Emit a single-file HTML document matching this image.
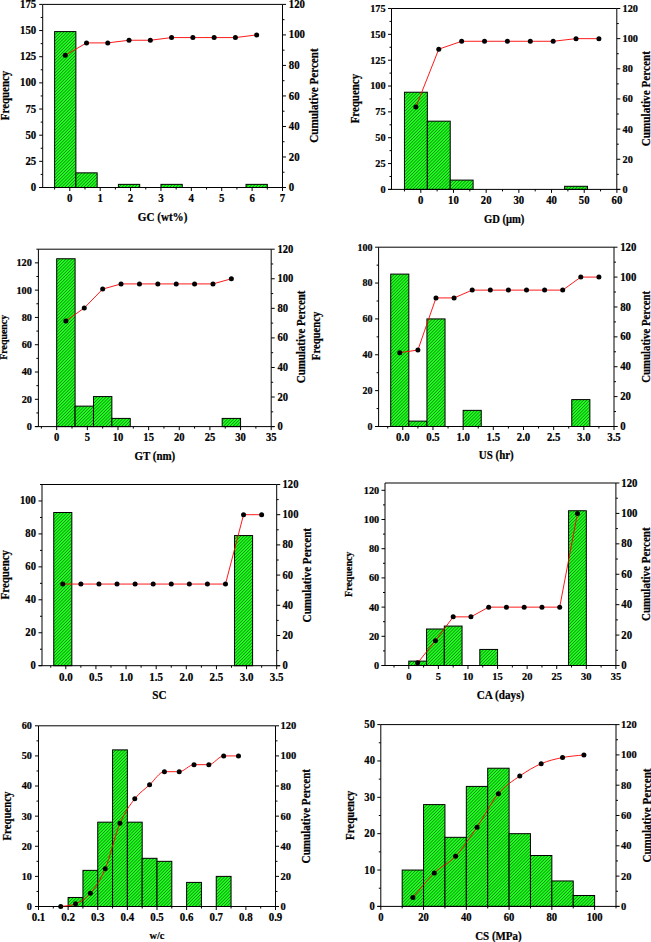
<!DOCTYPE html>
<html><head><meta charset="utf-8"><title>Histograms</title>
<style>html,body{margin:0;padding:0;background:#fff;width:651px;height:942px;overflow:hidden;font-family:"Liberation Serif",serif}svg{display:block}</style>
</head><body>
<svg width="651" height="942" viewBox="0 0 651 942">
<defs>
<style>text{stroke:#000;stroke-width:0.2px;stroke-linejoin:round}</style>
<pattern id="h" patternUnits="userSpaceOnUse" width="4" height="2.25" patternTransform="rotate(-45)">
<rect width="4" height="2.25" fill="#20ff20"/>
<rect width="4" height="0.62" fill="#0a720a"/>
</pattern>
</defs>
<rect width="651" height="942" fill="#fff"/>
<g font-family='"Liberation Serif", serif' font-weight="bold" fill="#000">
<rect x="54.61" y="31.6" width="21.27" height="155.9" fill="url(#h)" stroke="#000" stroke-width="1"/>
<rect x="75.88" y="172.85" width="21.27" height="14.65" fill="url(#h)" stroke="#000" stroke-width="1"/>
<rect x="118.42" y="184.36" width="21.27" height="3.14" fill="url(#h)" stroke="#000" stroke-width="1"/>
<rect x="160.96" y="184.36" width="21.27" height="3.14" fill="url(#h)" stroke="#000" stroke-width="1"/>
<rect x="246.04" y="184.36" width="21.27" height="3.14" fill="url(#h)" stroke="#000" stroke-width="1"/>
<text transform="translate(36.23,191.06) scale(1,1.08)" text-anchor="end" font-size="10.8">0</text>
<text transform="translate(36.23,164.91) scale(1,1.08)" text-anchor="end" font-size="10.8">25</text>
<text transform="translate(36.23,138.75) scale(1,1.08)" text-anchor="end" font-size="10.8">50</text>
<text transform="translate(36.23,112.59) scale(1,1.08)" text-anchor="end" font-size="10.8">75</text>
<text transform="translate(36.23,86.44) scale(1,1.08)" text-anchor="end" font-size="10.8">100</text>
<text transform="translate(36.23,60.28) scale(1,1.08)" text-anchor="end" font-size="10.8">125</text>
<text transform="translate(36.23,34.12) scale(1,1.08)" text-anchor="end" font-size="10.8">150</text>
<text transform="translate(36.23,7.96) scale(1,1.08)" text-anchor="end" font-size="10.8">175</text>
<text transform="translate(288.77,191.06) scale(1,1.08)" text-anchor="start" font-size="10.8">0</text>
<text transform="translate(288.77,160.55) scale(1,1.08)" text-anchor="start" font-size="10.8">20</text>
<text transform="translate(288.77,130.03) scale(1,1.08)" text-anchor="start" font-size="10.8">40</text>
<text transform="translate(288.77,99.51) scale(1,1.08)" text-anchor="start" font-size="10.8">60</text>
<text transform="translate(288.77,69) scale(1,1.08)" text-anchor="start" font-size="10.8">80</text>
<text transform="translate(288.77,38.48) scale(1,1.08)" text-anchor="start" font-size="10.8">100</text>
<text transform="translate(288.77,7.96) scale(1,1.08)" text-anchor="start" font-size="10.8">120</text>
<text transform="translate(69.8,202.4) scale(1,1.08)" text-anchor="middle" font-size="10.9">0</text>
<text transform="translate(100.19,202.4) scale(1,1.08)" text-anchor="middle" font-size="10.9">1</text>
<text transform="translate(130.57,202.4) scale(1,1.08)" text-anchor="middle" font-size="10.9">2</text>
<text transform="translate(160.96,202.4) scale(1,1.08)" text-anchor="middle" font-size="10.9">3</text>
<text transform="translate(191.34,202.4) scale(1,1.08)" text-anchor="middle" font-size="10.9">4</text>
<text transform="translate(221.73,202.4) scale(1,1.08)" text-anchor="middle" font-size="10.9">5</text>
<text transform="translate(252.11,202.4) scale(1,1.08)" text-anchor="middle" font-size="10.9">6</text>
<text transform="translate(282.5,202.4) scale(1,1.08)" text-anchor="middle" font-size="10.9">7</text>
<path d="M42.7,4.4H282.5 M39.2,187.5H286 M42.7,4.4V187.5 M282.5,4.4V187.5 M39.2,187.5H42.7 M39.2,161.34H42.7 M39.2,135.19H42.7 M39.2,109.03H42.7 M39.2,82.87H42.7 M39.2,56.71H42.7 M39.2,30.56H42.7 M39.2,4.4H42.7 M40.7,174.42H42.7 M40.7,148.26H42.7 M40.7,122.11H42.7 M40.7,95.95H42.7 M40.7,69.79H42.7 M40.7,43.64H42.7 M40.7,17.48H42.7 M282.5,187.5H286 M282.5,156.98H286 M282.5,126.47H286 M282.5,95.95H286 M282.5,65.43H286 M282.5,34.92H286 M282.5,4.4H286 M282.5,172.24H284.5 M282.5,141.72H284.5 M282.5,111.21H284.5 M282.5,80.69H284.5 M282.5,50.17H284.5 M282.5,19.66H284.5 M69.8,187.5V191 M100.19,187.5V191 M130.57,187.5V191 M160.96,187.5V191 M191.34,187.5V191 M221.73,187.5V191 M252.11,187.5V191 M282.5,187.5V191 M54.61,187.5V189.5 M84.99,187.5V189.5 M115.38,187.5V189.5 M145.76,187.5V189.5 M176.15,187.5V189.5 M206.54,187.5V189.5 M236.92,187.5V189.5 M267.31,187.5V189.5" stroke="#000" stroke-width="1" fill="none"/>
<path d="M65.24,55.32 L86.51,42.9 L107.78,42.9 L129.05,40.24 L150.32,40.24 L171.59,37.58 L192.86,37.58 L214.13,37.58 L235.4,37.58 L256.67,34.92" stroke="#ff0000" stroke-width="0.9" fill="none"/>
<circle cx="65.24" cy="55.32" r="2.5" fill="#000"/>
<circle cx="86.51" cy="42.9" r="2.5" fill="#000"/>
<circle cx="107.78" cy="42.9" r="2.5" fill="#000"/>
<circle cx="129.05" cy="40.24" r="2.5" fill="#000"/>
<circle cx="150.32" cy="40.24" r="2.5" fill="#000"/>
<circle cx="171.59" cy="37.58" r="2.5" fill="#000"/>
<circle cx="192.86" cy="37.58" r="2.5" fill="#000"/>
<circle cx="214.13" cy="37.58" r="2.5" fill="#000"/>
<circle cx="235.4" cy="37.58" r="2.5" fill="#000"/>
<circle cx="256.67" cy="34.92" r="2.5" fill="#000"/>
<text transform="translate(162.6,221.4) scale(1,1.08)" text-anchor="middle" font-size="11.1">GC (wt%)</text>
<text transform="translate(8.5,95.45) rotate(-90) scale(1,1.08)" text-anchor="middle" font-size="10.9">Frequency</text>
<text transform="translate(318.2,95.55) rotate(-90) scale(1,1.08)" text-anchor="middle" font-size="11.1">Cumulative Percent</text>
<rect x="404.46" y="92.23" width="22.88" height="97.17" fill="url(#h)" stroke="#000" stroke-width="1"/>
<rect x="427.34" y="121.17" width="22.88" height="68.23" fill="url(#h)" stroke="#000" stroke-width="1"/>
<rect x="450.22" y="180.1" width="22.88" height="9.3" fill="url(#h)" stroke="#000" stroke-width="1"/>
<rect x="564.61" y="186.3" width="22.88" height="3.1" fill="url(#h)" stroke="#000" stroke-width="1"/>
<text transform="translate(385.61,192.8) scale(1,1.08)" text-anchor="end" font-size="10.3">0</text>
<text transform="translate(385.61,166.96) scale(1,1.08)" text-anchor="end" font-size="10.3">25</text>
<text transform="translate(385.61,141.11) scale(1,1.08)" text-anchor="end" font-size="10.3">50</text>
<text transform="translate(385.61,115.27) scale(1,1.08)" text-anchor="end" font-size="10.3">75</text>
<text transform="translate(385.61,89.43) scale(1,1.08)" text-anchor="end" font-size="10.3">100</text>
<text transform="translate(385.61,63.58) scale(1,1.08)" text-anchor="end" font-size="10.3">125</text>
<text transform="translate(385.61,37.74) scale(1,1.08)" text-anchor="end" font-size="10.3">150</text>
<text transform="translate(385.61,11.9) scale(1,1.08)" text-anchor="end" font-size="10.3">175</text>
<text transform="translate(622.59,192.8) scale(1,1.08)" text-anchor="start" font-size="10.3">0</text>
<text transform="translate(622.59,162.65) scale(1,1.08)" text-anchor="start" font-size="10.3">20</text>
<text transform="translate(622.59,132.5) scale(1,1.08)" text-anchor="start" font-size="10.3">40</text>
<text transform="translate(622.59,102.35) scale(1,1.08)" text-anchor="start" font-size="10.3">60</text>
<text transform="translate(622.59,72.2) scale(1,1.08)" text-anchor="start" font-size="10.3">80</text>
<text transform="translate(622.59,42.05) scale(1,1.08)" text-anchor="start" font-size="10.3">100</text>
<text transform="translate(622.59,11.9) scale(1,1.08)" text-anchor="start" font-size="10.3">120</text>
<text transform="translate(420.8,204.2) scale(1,1.08)" text-anchor="middle" font-size="10.75">0</text>
<text transform="translate(453.48,204.2) scale(1,1.08)" text-anchor="middle" font-size="10.75">10</text>
<text transform="translate(486.17,204.2) scale(1,1.08)" text-anchor="middle" font-size="10.75">20</text>
<text transform="translate(518.85,204.2) scale(1,1.08)" text-anchor="middle" font-size="10.75">30</text>
<text transform="translate(551.53,204.2) scale(1,1.08)" text-anchor="middle" font-size="10.75">40</text>
<text transform="translate(584.22,204.2) scale(1,1.08)" text-anchor="middle" font-size="10.75">50</text>
<text transform="translate(616.9,204.2) scale(1,1.08)" text-anchor="middle" font-size="10.75">60</text>
<path d="M391.5,8.5H616.8 M388,189.4H620.3 M391.5,8.5V189.4 M616.8,8.5V189.4 M388,189.4H391.5 M388,163.56H391.5 M388,137.71H391.5 M388,111.87H391.5 M388,86.03H391.5 M388,60.19H391.5 M388,34.34H391.5 M388,8.5H391.5 M389.5,176.48H391.5 M389.5,150.64H391.5 M389.5,124.79H391.5 M389.5,98.95H391.5 M389.5,73.11H391.5 M389.5,47.26H391.5 M389.5,21.42H391.5 M616.8,189.4H620.3 M616.8,159.25H620.3 M616.8,129.1H620.3 M616.8,98.95H620.3 M616.8,68.8H620.3 M616.8,38.65H620.3 M616.8,8.5H620.3 M616.8,174.33H618.8 M616.8,144.18H618.8 M616.8,114.03H618.8 M616.8,83.88H618.8 M616.8,53.72H618.8 M616.8,23.57H618.8 M420.8,189.4V192.9 M453.48,189.4V192.9 M486.17,189.4V192.9 M518.85,189.4V192.9 M551.53,189.4V192.9 M584.22,189.4V192.9 M616.9,189.4V192.9 M404.46,189.4V191.4 M437.14,189.4V191.4 M469.82,189.4V191.4 M502.51,189.4V191.4 M535.19,189.4V191.4 M567.88,189.4V191.4 M600.56,189.4V191.4" stroke="#000" stroke-width="1" fill="none"/>
<path d="M415.9,107.01 L438.78,49.17 L461.65,41.28 L484.53,41.28 L507.41,41.28 L530.29,41.28 L553.17,41.28 L576.05,38.65 L598.92,38.65" stroke="#ff0000" stroke-width="0.9" fill="none"/>
<circle cx="415.9" cy="107.01" r="2.5" fill="#000"/>
<circle cx="438.78" cy="49.17" r="2.5" fill="#000"/>
<circle cx="461.65" cy="41.28" r="2.5" fill="#000"/>
<circle cx="484.53" cy="41.28" r="2.5" fill="#000"/>
<circle cx="507.41" cy="41.28" r="2.5" fill="#000"/>
<circle cx="530.29" cy="41.28" r="2.5" fill="#000"/>
<circle cx="553.17" cy="41.28" r="2.5" fill="#000"/>
<circle cx="576.05" cy="38.65" r="2.5" fill="#000"/>
<circle cx="598.92" cy="38.65" r="2.5" fill="#000"/>
<text transform="translate(504.15,222.5) scale(1,1.08)" text-anchor="middle" font-size="10.6">GD (μm)</text>
<text transform="translate(359.4,98.6) rotate(-90) scale(1,1.08)" text-anchor="middle" font-size="10.9">Frequency</text>
<text transform="translate(649.9,98.7) rotate(-90) scale(1,1.08)" text-anchor="middle" font-size="11.2">Cumulative Percent</text>
<rect x="56.7" y="258.75" width="18.39" height="167.85" fill="url(#h)" stroke="#000" stroke-width="1"/>
<rect x="75.09" y="406.13" width="18.39" height="20.47" fill="url(#h)" stroke="#000" stroke-width="1"/>
<rect x="93.47" y="396.58" width="18.39" height="30.02" fill="url(#h)" stroke="#000" stroke-width="1"/>
<rect x="111.86" y="418.41" width="18.39" height="8.19" fill="url(#h)" stroke="#000" stroke-width="1"/>
<rect x="222.17" y="418.41" width="18.39" height="8.19" fill="url(#h)" stroke="#000" stroke-width="1"/>
<text transform="translate(31.91,430) scale(1,1.08)" text-anchor="end" font-size="10.3">0</text>
<text transform="translate(31.91,402.71) scale(1,1.08)" text-anchor="end" font-size="10.3">20</text>
<text transform="translate(31.91,375.41) scale(1,1.08)" text-anchor="end" font-size="10.3">40</text>
<text transform="translate(31.91,348.12) scale(1,1.08)" text-anchor="end" font-size="10.3">60</text>
<text transform="translate(31.91,320.83) scale(1,1.08)" text-anchor="end" font-size="10.3">80</text>
<text transform="translate(31.91,293.54) scale(1,1.08)" text-anchor="end" font-size="10.3">100</text>
<text transform="translate(31.91,266.25) scale(1,1.08)" text-anchor="end" font-size="10.3">120</text>
<text transform="translate(277.48,430.1) scale(1,1.08)" text-anchor="start" font-size="10.6">0</text>
<text transform="translate(277.48,400.53) scale(1,1.08)" text-anchor="start" font-size="10.6">20</text>
<text transform="translate(277.48,370.96) scale(1,1.08)" text-anchor="start" font-size="10.6">40</text>
<text transform="translate(277.48,341.4) scale(1,1.08)" text-anchor="start" font-size="10.6">60</text>
<text transform="translate(277.48,311.83) scale(1,1.08)" text-anchor="start" font-size="10.6">80</text>
<text transform="translate(277.48,282.26) scale(1,1.08)" text-anchor="start" font-size="10.6">100</text>
<text transform="translate(277.48,252.7) scale(1,1.08)" text-anchor="start" font-size="10.6">120</text>
<text transform="translate(56.7,441.2) scale(1,1.08)" text-anchor="middle" font-size="10.6">0</text>
<text transform="translate(87.34,441.2) scale(1,1.08)" text-anchor="middle" font-size="10.6">5</text>
<text transform="translate(117.99,441.2) scale(1,1.08)" text-anchor="middle" font-size="10.6">10</text>
<text transform="translate(148.63,441.2) scale(1,1.08)" text-anchor="middle" font-size="10.6">15</text>
<text transform="translate(179.27,441.2) scale(1,1.08)" text-anchor="middle" font-size="10.6">20</text>
<text transform="translate(209.91,441.2) scale(1,1.08)" text-anchor="middle" font-size="10.6">25</text>
<text transform="translate(240.56,441.2) scale(1,1.08)" text-anchor="middle" font-size="10.6">30</text>
<text transform="translate(271.2,441.2) scale(1,1.08)" text-anchor="middle" font-size="10.6">35</text>
<path d="M38.4,249.2H271.2 M34.9,426.6H274.7 M38.4,249.2V426.6 M271.2,249.2V426.6 M34.9,426.6H38.4 M34.9,399.31H38.4 M34.9,372.02H38.4 M34.9,344.72H38.4 M34.9,317.43H38.4 M34.9,290.14H38.4 M34.9,262.85H38.4 M36.4,412.95H38.4 M36.4,385.66H38.4 M36.4,358.37H38.4 M36.4,331.08H38.4 M36.4,303.78H38.4 M36.4,276.49H38.4 M36.4,249.2H38.4 M271.2,426.6H274.7 M271.2,397.03H274.7 M271.2,367.47H274.7 M271.2,337.9H274.7 M271.2,308.33H274.7 M271.2,278.77H274.7 M271.2,249.2H274.7 M271.2,411.82H273.2 M271.2,382.25H273.2 M271.2,352.68H273.2 M271.2,323.12H273.2 M271.2,293.55H273.2 M271.2,263.98H273.2 M56.7,426.6V430.1 M87.34,426.6V430.1 M117.99,426.6V430.1 M148.63,426.6V430.1 M179.27,426.6V430.1 M209.91,426.6V430.1 M240.56,426.6V430.1 M271.2,426.6V430.1 M41.38,426.6V428.6 M72.02,426.6V428.6 M102.66,426.6V428.6 M133.31,426.6V428.6 M163.95,426.6V428.6 M194.59,426.6V428.6 M225.24,426.6V428.6 M255.88,426.6V428.6" stroke="#000" stroke-width="1" fill="none"/>
<path d="M65.89,320.88 L84.28,307.99 L102.66,289.08 L121.05,283.92 L139.44,283.92 L157.82,283.92 L176.21,283.92 L194.59,283.92 L212.98,283.92 L231.36,278.77" stroke="#ff0000" stroke-width="0.9" fill="none"/>
<circle cx="65.89" cy="320.88" r="2.5" fill="#000"/>
<circle cx="84.28" cy="307.99" r="2.5" fill="#000"/>
<circle cx="102.66" cy="289.08" r="2.5" fill="#000"/>
<circle cx="121.05" cy="283.92" r="2.5" fill="#000"/>
<circle cx="139.44" cy="283.92" r="2.5" fill="#000"/>
<circle cx="157.82" cy="283.92" r="2.5" fill="#000"/>
<circle cx="176.21" cy="283.92" r="2.5" fill="#000"/>
<circle cx="194.59" cy="283.92" r="2.5" fill="#000"/>
<circle cx="212.98" cy="283.92" r="2.5" fill="#000"/>
<circle cx="231.36" cy="278.77" r="2.5" fill="#000"/>
<text transform="translate(154.8,459.5) scale(1,1.08)" text-anchor="middle" font-size="10.95">GT (nm)</text>
<text transform="translate(7,337.3) rotate(-90) scale(1,1.08)" text-anchor="middle" font-size="9.9">Frequency</text>
<text transform="translate(305.2,336.9) rotate(-90) scale(1,1.08)" text-anchor="middle" font-size="10.9">Cumulative Percent</text>
<rect x="390.73" y="274.1" width="18.1" height="152.4" fill="url(#h)" stroke="#000" stroke-width="1"/>
<rect x="408.83" y="421.12" width="18.1" height="5.38" fill="url(#h)" stroke="#000" stroke-width="1"/>
<rect x="426.94" y="318.92" width="18.1" height="107.58" fill="url(#h)" stroke="#000" stroke-width="1"/>
<rect x="463.14" y="410.36" width="18.1" height="16.14" fill="url(#h)" stroke="#000" stroke-width="1"/>
<rect x="571.76" y="399.61" width="18.1" height="26.89" fill="url(#h)" stroke="#000" stroke-width="1"/>
<text transform="translate(372.6,429.8) scale(1,1.08)" text-anchor="end" font-size="10">0</text>
<text transform="translate(372.6,393.94) scale(1,1.08)" text-anchor="end" font-size="10">20</text>
<text transform="translate(372.6,358.08) scale(1,1.08)" text-anchor="end" font-size="10">40</text>
<text transform="translate(372.6,322.22) scale(1,1.08)" text-anchor="end" font-size="10">60</text>
<text transform="translate(372.6,286.36) scale(1,1.08)" text-anchor="end" font-size="10">80</text>
<text transform="translate(372.6,250.5) scale(1,1.08)" text-anchor="end" font-size="10">100</text>
<text transform="translate(620.17,430.06) scale(1,1.08)" text-anchor="start" font-size="10.8">0</text>
<text transform="translate(620.17,400.18) scale(1,1.08)" text-anchor="start" font-size="10.8">20</text>
<text transform="translate(620.17,370.3) scale(1,1.08)" text-anchor="start" font-size="10.8">40</text>
<text transform="translate(620.17,340.41) scale(1,1.08)" text-anchor="start" font-size="10.8">60</text>
<text transform="translate(620.17,310.53) scale(1,1.08)" text-anchor="start" font-size="10.8">80</text>
<text transform="translate(620.17,280.65) scale(1,1.08)" text-anchor="start" font-size="10.8">100</text>
<text transform="translate(620.17,250.76) scale(1,1.08)" text-anchor="start" font-size="10.8">120</text>
<text transform="translate(402.8,440.9) scale(1,1.08)" text-anchor="middle" font-size="10.8">0.0</text>
<text transform="translate(432.97,440.9) scale(1,1.08)" text-anchor="middle" font-size="10.8">0.5</text>
<text transform="translate(463.14,440.9) scale(1,1.08)" text-anchor="middle" font-size="10.8">1.0</text>
<text transform="translate(493.31,440.9) scale(1,1.08)" text-anchor="middle" font-size="10.8">1.5</text>
<text transform="translate(523.49,440.9) scale(1,1.08)" text-anchor="middle" font-size="10.8">2.0</text>
<text transform="translate(553.66,440.9) scale(1,1.08)" text-anchor="middle" font-size="10.8">2.5</text>
<text transform="translate(583.83,440.9) scale(1,1.08)" text-anchor="middle" font-size="10.8">3.0</text>
<text transform="translate(614,440.9) scale(1,1.08)" text-anchor="middle" font-size="10.8">3.5</text>
<path d="M378.6,247.2H614 M375.1,426.5H617.5 M378.6,247.2V426.5 M614,247.2V426.5 M375.1,426.5H378.6 M375.1,390.64H378.6 M375.1,354.78H378.6 M375.1,318.92H378.6 M375.1,283.06H378.6 M375.1,247.2H378.6 M376.6,408.57H378.6 M376.6,372.71H378.6 M376.6,336.85H378.6 M376.6,300.99H378.6 M376.6,265.13H378.6 M614,426.5H617.5 M614,396.62H617.5 M614,366.73H617.5 M614,336.85H617.5 M614,306.97H617.5 M614,277.08H617.5 M614,247.2H617.5 M614,411.56H616 M614,381.68H616 M614,351.79H616 M614,321.91H616 M614,292.02H616 M614,262.14H616 M402.8,426.5V430 M432.97,426.5V430 M463.14,426.5V430 M493.31,426.5V430 M523.49,426.5V430 M553.66,426.5V430 M583.83,426.5V430 M614,426.5V430 M387.71,426.5V428.5 M417.89,426.5V428.5 M448.06,426.5V428.5 M478.23,426.5V428.5 M508.4,426.5V428.5 M538.57,426.5V428.5 M568.74,426.5V428.5 M598.91,426.5V428.5" stroke="#000" stroke-width="1" fill="none"/>
<path d="M399.78,352.66 L417.89,350.05 L435.99,297.93 L454.09,297.93 L472.19,290.11 L490.3,290.11 L508.4,290.11 L526.5,290.11 L544.61,290.11 L562.71,290.11 L580.81,277.08 L598.91,277.08" stroke="#ff0000" stroke-width="0.9" fill="none"/>
<circle cx="399.78" cy="352.66" r="2.5" fill="#000"/>
<circle cx="417.89" cy="350.05" r="2.5" fill="#000"/>
<circle cx="435.99" cy="297.93" r="2.5" fill="#000"/>
<circle cx="454.09" cy="297.93" r="2.5" fill="#000"/>
<circle cx="472.19" cy="290.11" r="2.5" fill="#000"/>
<circle cx="490.3" cy="290.11" r="2.5" fill="#000"/>
<circle cx="508.4" cy="290.11" r="2.5" fill="#000"/>
<circle cx="526.5" cy="290.11" r="2.5" fill="#000"/>
<circle cx="544.61" cy="290.11" r="2.5" fill="#000"/>
<circle cx="562.71" cy="290.11" r="2.5" fill="#000"/>
<circle cx="580.81" cy="277.08" r="2.5" fill="#000"/>
<circle cx="598.91" cy="277.08" r="2.5" fill="#000"/>
<text transform="translate(496.3,459.4) scale(1,1.08)" text-anchor="middle" font-size="10.95">US (hr)</text>
<text transform="translate(319.6,335.9) rotate(-90) scale(1,1.08)" text-anchor="middle" font-size="10.7">Frequency</text>
<text transform="translate(649.6,336.8) rotate(-90) scale(1,1.08)" text-anchor="middle" font-size="10.8">Cumulative Percent</text>
<rect x="53.75" y="512.5" width="18.08" height="153.2" fill="url(#h)" stroke="#000" stroke-width="1"/>
<rect x="234.52" y="535.57" width="18.08" height="130.13" fill="url(#h)" stroke="#000" stroke-width="1"/>
<text transform="translate(35.92,669.2) scale(1,1.08)" text-anchor="end" font-size="10.6">0</text>
<text transform="translate(35.92,636.25) scale(1,1.08)" text-anchor="end" font-size="10.6">20</text>
<text transform="translate(35.92,603.31) scale(1,1.08)" text-anchor="end" font-size="10.6">40</text>
<text transform="translate(35.92,570.36) scale(1,1.08)" text-anchor="end" font-size="10.6">60</text>
<text transform="translate(35.92,537.42) scale(1,1.08)" text-anchor="end" font-size="10.6">80</text>
<text transform="translate(35.92,504.47) scale(1,1.08)" text-anchor="end" font-size="10.6">100</text>
<text transform="translate(282.58,669.2) scale(1,1.08)" text-anchor="start" font-size="10.6">0</text>
<text transform="translate(282.58,639) scale(1,1.08)" text-anchor="start" font-size="10.6">20</text>
<text transform="translate(282.58,608.8) scale(1,1.08)" text-anchor="start" font-size="10.6">40</text>
<text transform="translate(282.58,578.6) scale(1,1.08)" text-anchor="start" font-size="10.6">60</text>
<text transform="translate(282.58,548.4) scale(1,1.08)" text-anchor="start" font-size="10.6">80</text>
<text transform="translate(282.58,518.2) scale(1,1.08)" text-anchor="start" font-size="10.6">100</text>
<text transform="translate(282.58,488) scale(1,1.08)" text-anchor="start" font-size="10.6">120</text>
<text transform="translate(65.8,681.2) scale(1,1.08)" text-anchor="middle" font-size="11">0.0</text>
<text transform="translate(95.93,681.2) scale(1,1.08)" text-anchor="middle" font-size="11">0.5</text>
<text transform="translate(126.06,681.2) scale(1,1.08)" text-anchor="middle" font-size="11">1.0</text>
<text transform="translate(156.19,681.2) scale(1,1.08)" text-anchor="middle" font-size="11">1.5</text>
<text transform="translate(186.31,681.2) scale(1,1.08)" text-anchor="middle" font-size="11">2.0</text>
<text transform="translate(216.44,681.2) scale(1,1.08)" text-anchor="middle" font-size="11">2.5</text>
<text transform="translate(246.57,681.2) scale(1,1.08)" text-anchor="middle" font-size="11">3.0</text>
<text transform="translate(276.7,681.2) scale(1,1.08)" text-anchor="middle" font-size="11">3.5</text>
<path d="M42,484.5H276.7 M38.5,665.7H280.2 M42,484.5V665.7 M276.7,484.5V665.7 M38.5,665.7H42 M38.5,632.75H42 M38.5,599.81H42 M38.5,566.86H42 M38.5,533.92H42 M38.5,500.97H42 M40,649.23H42 M40,616.28H42 M40,583.34H42 M40,550.39H42 M40,517.45H42 M40,484.5H42 M276.7,665.7H280.2 M276.7,635.5H280.2 M276.7,605.3H280.2 M276.7,575.1H280.2 M276.7,544.9H280.2 M276.7,514.7H280.2 M276.7,484.5H280.2 M276.7,650.6H278.7 M276.7,620.4H278.7 M276.7,590.2H278.7 M276.7,560H278.7 M276.7,529.8H278.7 M276.7,499.6H278.7 M65.8,665.7V669.2 M95.93,665.7V669.2 M126.06,665.7V669.2 M156.19,665.7V669.2 M186.31,665.7V669.2 M216.44,665.7V669.2 M246.57,665.7V669.2 M276.7,665.7V669.2 M50.74,665.7V667.7 M80.86,665.7V667.7 M110.99,665.7V667.7 M141.12,665.7V667.7 M171.25,665.7V667.7 M201.38,665.7V667.7 M231.51,665.7V667.7 M261.64,665.7V667.7" stroke="#000" stroke-width="1" fill="none"/>
<path d="M62.79,584.05 L80.86,584.05 L98.94,584.05 L117.02,584.05 L135.1,584.05 L153.17,584.05 L171.25,584.05 L189.33,584.05 L207.4,584.05 L225.48,584.05 L243.56,514.7 L261.64,514.7" stroke="#ff0000" stroke-width="0.9" fill="none"/>
<circle cx="62.79" cy="584.05" r="2.5" fill="#000"/>
<circle cx="80.86" cy="584.05" r="2.5" fill="#000"/>
<circle cx="98.94" cy="584.05" r="2.5" fill="#000"/>
<circle cx="117.02" cy="584.05" r="2.5" fill="#000"/>
<circle cx="135.1" cy="584.05" r="2.5" fill="#000"/>
<circle cx="153.17" cy="584.05" r="2.5" fill="#000"/>
<circle cx="171.25" cy="584.05" r="2.5" fill="#000"/>
<circle cx="189.33" cy="584.05" r="2.5" fill="#000"/>
<circle cx="207.4" cy="584.05" r="2.5" fill="#000"/>
<circle cx="225.48" cy="584.05" r="2.5" fill="#000"/>
<circle cx="243.56" cy="514.7" r="2.5" fill="#000"/>
<circle cx="261.64" cy="514.7" r="2.5" fill="#000"/>
<text transform="translate(159.35,698.8) scale(1,1.08)" text-anchor="middle" font-size="11.2">SC</text>
<text transform="translate(8.5,574.7) rotate(-90) scale(1,1.08)" text-anchor="middle" font-size="10.9">Frequency</text>
<text transform="translate(311,575.2) rotate(-90) scale(1,1.08)" text-anchor="middle" font-size="11.1">Cumulative Percent</text>
<rect x="408.8" y="661.12" width="17.75" height="4.38" fill="url(#h)" stroke="#000" stroke-width="1"/>
<rect x="426.55" y="629" width="17.75" height="36.5" fill="url(#h)" stroke="#000" stroke-width="1"/>
<rect x="444.3" y="626.08" width="17.75" height="39.42" fill="url(#h)" stroke="#000" stroke-width="1"/>
<rect x="479.81" y="649.44" width="17.75" height="16.06" fill="url(#h)" stroke="#000" stroke-width="1"/>
<rect x="568.56" y="510.74" width="17.75" height="154.76" fill="url(#h)" stroke="#000" stroke-width="1"/>
<text transform="translate(379.21,668.9) scale(1,1.08)" text-anchor="end" font-size="10.3">0</text>
<text transform="translate(379.21,639.7) scale(1,1.08)" text-anchor="end" font-size="10.3">20</text>
<text transform="translate(379.21,610.5) scale(1,1.08)" text-anchor="end" font-size="10.3">40</text>
<text transform="translate(379.21,581.3) scale(1,1.08)" text-anchor="end" font-size="10.3">60</text>
<text transform="translate(379.21,552.1) scale(1,1.08)" text-anchor="end" font-size="10.3">80</text>
<text transform="translate(379.21,522.9) scale(1,1.08)" text-anchor="end" font-size="10.3">100</text>
<text transform="translate(379.21,493.7) scale(1,1.08)" text-anchor="end" font-size="10.3">120</text>
<text transform="translate(621.27,669.06) scale(1,1.08)" text-anchor="start" font-size="10.8">0</text>
<text transform="translate(621.27,638.65) scale(1,1.08)" text-anchor="start" font-size="10.8">20</text>
<text transform="translate(621.27,608.23) scale(1,1.08)" text-anchor="start" font-size="10.8">40</text>
<text transform="translate(621.27,577.81) scale(1,1.08)" text-anchor="start" font-size="10.8">60</text>
<text transform="translate(621.27,547.4) scale(1,1.08)" text-anchor="start" font-size="10.8">80</text>
<text transform="translate(621.27,516.98) scale(1,1.08)" text-anchor="start" font-size="10.8">100</text>
<text transform="translate(621.27,486.56) scale(1,1.08)" text-anchor="start" font-size="10.8">120</text>
<text transform="translate(408.8,680.1) scale(1,1.08)" text-anchor="middle" font-size="10.5">0</text>
<text transform="translate(438.39,680.1) scale(1,1.08)" text-anchor="middle" font-size="10.5">5</text>
<text transform="translate(467.97,680.1) scale(1,1.08)" text-anchor="middle" font-size="10.5">10</text>
<text transform="translate(497.56,680.1) scale(1,1.08)" text-anchor="middle" font-size="10.5">15</text>
<text transform="translate(527.14,680.1) scale(1,1.08)" text-anchor="middle" font-size="10.5">20</text>
<text transform="translate(556.73,680.1) scale(1,1.08)" text-anchor="middle" font-size="10.5">25</text>
<text transform="translate(586.31,680.1) scale(1,1.08)" text-anchor="middle" font-size="10.5">30</text>
<text transform="translate(615.9,680.1) scale(1,1.08)" text-anchor="middle" font-size="10.5">35</text>
<path d="M385,483H615.9 M381.5,665.5H619.4 M385,483V665.5 M615.9,483V665.5 M381.5,665.5H385 M381.5,636.3H385 M381.5,607.1H385 M381.5,577.9H385 M381.5,548.7H385 M381.5,519.5H385 M381.5,490.3H385 M383,650.9H385 M383,621.7H385 M383,592.5H385 M383,563.3H385 M383,534.1H385 M383,504.9H385 M615.9,665.5H619.4 M615.9,635.08H619.4 M615.9,604.67H619.4 M615.9,574.25H619.4 M615.9,543.83H619.4 M615.9,513.42H619.4 M615.9,483H619.4 M615.9,650.29H617.9 M615.9,619.88H617.9 M615.9,589.46H617.9 M615.9,559.04H617.9 M615.9,528.62H617.9 M615.9,498.21H617.9 M408.8,665.5V669 M438.39,665.5V669 M467.97,665.5V669 M497.56,665.5V669 M527.14,665.5V669 M556.73,665.5V669 M586.31,665.5V669 M615.9,665.5V669 M394.01,665.5V667.5 M423.59,665.5V667.5 M453.18,665.5V667.5 M482.76,665.5V667.5 M512.35,665.5V667.5 M541.94,665.5V667.5 M571.52,665.5V667.5 M601.11,665.5V667.5" stroke="#000" stroke-width="1" fill="none"/>
<path d="M417.68,662.85 L435.43,640.74 L453.18,616.87 L470.93,616.87 L488.68,607.14 L506.43,607.14 L524.18,607.14 L541.94,607.14 L559.69,607.14 L577.44,513.42" stroke="#ff0000" stroke-width="0.9" fill="none"/>
<circle cx="417.68" cy="662.85" r="2.5" fill="#000"/>
<circle cx="435.43" cy="640.74" r="2.5" fill="#000"/>
<circle cx="453.18" cy="616.87" r="2.5" fill="#000"/>
<circle cx="470.93" cy="616.87" r="2.5" fill="#000"/>
<circle cx="488.68" cy="607.14" r="2.5" fill="#000"/>
<circle cx="506.43" cy="607.14" r="2.5" fill="#000"/>
<circle cx="524.18" cy="607.14" r="2.5" fill="#000"/>
<circle cx="541.94" cy="607.14" r="2.5" fill="#000"/>
<circle cx="559.69" cy="607.14" r="2.5" fill="#000"/>
<circle cx="577.44" cy="513.42" r="2.5" fill="#000"/>
<text transform="translate(500.45,698.6) scale(1,1.08)" text-anchor="middle" font-size="11.2">CA (days)</text>
<text transform="translate(352.1,574.3) rotate(-90) scale(1,1.08)" text-anchor="middle" font-size="10">Frequency</text>
<text transform="translate(650,574.2) rotate(-90) scale(1,1.08)" text-anchor="middle" font-size="11">Cumulative Percent</text>
<rect x="68.12" y="897.47" width="14.81" height="9.03" fill="url(#h)" stroke="#000" stroke-width="1"/>
<rect x="82.94" y="870.36" width="14.81" height="36.14" fill="url(#h)" stroke="#000" stroke-width="1"/>
<rect x="97.75" y="822.17" width="14.81" height="84.33" fill="url(#h)" stroke="#000" stroke-width="1"/>
<rect x="112.56" y="749.89" width="14.81" height="156.61" fill="url(#h)" stroke="#000" stroke-width="1"/>
<rect x="127.38" y="822.17" width="14.81" height="84.33" fill="url(#h)" stroke="#000" stroke-width="1"/>
<rect x="142.19" y="858.31" width="14.81" height="48.19" fill="url(#h)" stroke="#000" stroke-width="1"/>
<rect x="157" y="861.33" width="14.81" height="45.17" fill="url(#h)" stroke="#000" stroke-width="1"/>
<rect x="186.62" y="882.41" width="14.81" height="24.09" fill="url(#h)" stroke="#000" stroke-width="1"/>
<rect x="216.25" y="876.38" width="14.81" height="30.12" fill="url(#h)" stroke="#000" stroke-width="1"/>
<text transform="translate(31.91,909.87) scale(1,1.08)" text-anchor="end" font-size="10.2">0</text>
<text transform="translate(31.91,879.75) scale(1,1.08)" text-anchor="end" font-size="10.2">10</text>
<text transform="translate(31.91,849.63) scale(1,1.08)" text-anchor="end" font-size="10.2">20</text>
<text transform="translate(31.91,819.52) scale(1,1.08)" text-anchor="end" font-size="10.2">30</text>
<text transform="translate(31.91,789.4) scale(1,1.08)" text-anchor="end" font-size="10.2">40</text>
<text transform="translate(31.91,759.28) scale(1,1.08)" text-anchor="end" font-size="10.2">50</text>
<text transform="translate(31.91,729.17) scale(1,1.08)" text-anchor="end" font-size="10.2">60</text>
<text transform="translate(280.58,909.97) scale(1,1.08)" text-anchor="start" font-size="10.5">0</text>
<text transform="translate(280.58,879.85) scale(1,1.08)" text-anchor="start" font-size="10.5">20</text>
<text transform="translate(280.58,849.73) scale(1,1.08)" text-anchor="start" font-size="10.5">40</text>
<text transform="translate(280.58,819.62) scale(1,1.08)" text-anchor="start" font-size="10.5">60</text>
<text transform="translate(280.58,789.5) scale(1,1.08)" text-anchor="start" font-size="10.5">80</text>
<text transform="translate(280.58,759.38) scale(1,1.08)" text-anchor="start" font-size="10.5">100</text>
<text transform="translate(280.58,729.26) scale(1,1.08)" text-anchor="start" font-size="10.5">120</text>
<text transform="translate(38.5,921) scale(1,1.08)" text-anchor="middle" font-size="10.9">0.1</text>
<text transform="translate(68.12,921) scale(1,1.08)" text-anchor="middle" font-size="10.9">0.2</text>
<text transform="translate(97.75,921) scale(1,1.08)" text-anchor="middle" font-size="10.9">0.3</text>
<text transform="translate(127.38,921) scale(1,1.08)" text-anchor="middle" font-size="10.9">0.4</text>
<text transform="translate(157,921) scale(1,1.08)" text-anchor="middle" font-size="10.9">0.5</text>
<text transform="translate(186.63,921) scale(1,1.08)" text-anchor="middle" font-size="10.9">0.6</text>
<text transform="translate(216.25,921) scale(1,1.08)" text-anchor="middle" font-size="10.9">0.7</text>
<text transform="translate(245.88,921) scale(1,1.08)" text-anchor="middle" font-size="10.9">0.8</text>
<text transform="translate(275.5,921) scale(1,1.08)" text-anchor="middle" font-size="10.9">0.9</text>
<path d="M38.5,725.8H275.5 M35,906.5H279 M38.5,725.8V906.5 M275.5,725.8V906.5 M35,906.5H38.5 M35,876.38H38.5 M35,846.27H38.5 M35,816.15H38.5 M35,786.03H38.5 M35,755.92H38.5 M35,725.8H38.5 M36.5,891.44H38.5 M36.5,861.33H38.5 M36.5,831.21H38.5 M36.5,801.09H38.5 M36.5,770.97H38.5 M36.5,740.86H38.5 M275.5,906.5H279 M275.5,876.38H279 M275.5,846.27H279 M275.5,816.15H279 M275.5,786.03H279 M275.5,755.92H279 M275.5,725.8H279 M275.5,891.44H277.5 M275.5,861.33H277.5 M275.5,831.21H277.5 M275.5,801.09H277.5 M275.5,770.97H277.5 M275.5,740.86H277.5 M38.5,906.5V910 M68.12,906.5V910 M97.75,906.5V910 M127.38,906.5V910 M157,906.5V910 M186.63,906.5V910 M216.25,906.5V910 M245.88,906.5V910 M275.5,906.5V910 M53.31,906.5V908.5 M82.94,906.5V908.5 M112.56,906.5V908.5 M142.19,906.5V908.5 M171.81,906.5V908.5 M201.44,906.5V908.5 M231.06,906.5V908.5 M260.69,906.5V908.5" stroke="#000" stroke-width="1" fill="none"/>
<path d="M60.72,906.5 C65.66,905.62 70.59,906.06 75.53,903.87 C80.47,901.68 85.41,899.2 90.34,893.37 C95.28,887.53 100.22,880.53 105.16,868.85 C110.09,857.18 115.03,835 119.97,823.33 C124.91,811.66 129.84,805.24 134.78,798.82 C139.72,792.4 144.66,789.33 149.59,784.81 C154.53,780.28 159.47,771.68 164.41,771.68 C169.34,771.68 174.28,771.68 179.22,771.68 C184.16,771.68 189.09,764.67 194.03,764.67 C198.97,764.67 203.91,764.67 208.84,764.67 C213.78,764.67 218.72,755.92 223.66,755.92 C228.59,755.92 233.53,755.92 238.47,755.92" stroke="#ff0000" stroke-width="0.9" fill="none"/>
<circle cx="60.72" cy="906.5" r="2.5" fill="#000"/>
<circle cx="75.53" cy="903.87" r="2.5" fill="#000"/>
<circle cx="90.34" cy="893.37" r="2.5" fill="#000"/>
<circle cx="105.16" cy="868.85" r="2.5" fill="#000"/>
<circle cx="119.97" cy="823.33" r="2.5" fill="#000"/>
<circle cx="134.78" cy="798.82" r="2.5" fill="#000"/>
<circle cx="149.59" cy="784.81" r="2.5" fill="#000"/>
<circle cx="164.41" cy="771.68" r="2.5" fill="#000"/>
<circle cx="179.22" cy="771.68" r="2.5" fill="#000"/>
<circle cx="194.03" cy="764.67" r="2.5" fill="#000"/>
<circle cx="208.84" cy="764.67" r="2.5" fill="#000"/>
<circle cx="223.66" cy="755.92" r="2.5" fill="#000"/>
<circle cx="238.47" cy="755.92" r="2.5" fill="#000"/>
<text transform="translate(157,938.9) scale(1,1.08)" text-anchor="middle" font-size="10.3">w/c</text>
<text transform="translate(10.8,816) rotate(-90) scale(1,1.08)" text-anchor="middle" font-size="10.8">Frequency</text>
<text transform="translate(309.8,816.2) rotate(-90) scale(1,1.08)" text-anchor="middle" font-size="11.1">Cumulative Percent</text>
<rect x="402.18" y="870.04" width="21.38" height="36.36" fill="url(#h)" stroke="#000" stroke-width="1"/>
<rect x="423.56" y="804.59" width="21.38" height="101.81" fill="url(#h)" stroke="#000" stroke-width="1"/>
<rect x="444.95" y="837.32" width="21.38" height="69.08" fill="url(#h)" stroke="#000" stroke-width="1"/>
<rect x="466.33" y="786.41" width="21.38" height="119.99" fill="url(#h)" stroke="#000" stroke-width="1"/>
<rect x="487.71" y="768.23" width="21.38" height="138.17" fill="url(#h)" stroke="#000" stroke-width="1"/>
<rect x="509.09" y="833.68" width="21.38" height="72.72" fill="url(#h)" stroke="#000" stroke-width="1"/>
<rect x="530.47" y="855.5" width="21.38" height="50.9" fill="url(#h)" stroke="#000" stroke-width="1"/>
<rect x="551.85" y="880.95" width="21.38" height="25.45" fill="url(#h)" stroke="#000" stroke-width="1"/>
<rect x="573.24" y="895.49" width="21.38" height="10.91" fill="url(#h)" stroke="#000" stroke-width="1"/>
<text transform="translate(374.92,909.9) scale(1,1.08)" text-anchor="end" font-size="10.6">0</text>
<text transform="translate(374.92,873.54) scale(1,1.08)" text-anchor="end" font-size="10.6">10</text>
<text transform="translate(374.92,837.18) scale(1,1.08)" text-anchor="end" font-size="10.6">20</text>
<text transform="translate(374.92,800.82) scale(1,1.08)" text-anchor="end" font-size="10.6">30</text>
<text transform="translate(374.92,764.46) scale(1,1.08)" text-anchor="end" font-size="10.6">40</text>
<text transform="translate(374.92,728.1) scale(1,1.08)" text-anchor="end" font-size="10.6">50</text>
<text transform="translate(620.98,909.87) scale(1,1.08)" text-anchor="start" font-size="10.5">0</text>
<text transform="translate(620.98,879.57) scale(1,1.08)" text-anchor="start" font-size="10.5">20</text>
<text transform="translate(620.98,849.26) scale(1,1.08)" text-anchor="start" font-size="10.5">40</text>
<text transform="translate(620.98,818.97) scale(1,1.08)" text-anchor="start" font-size="10.5">60</text>
<text transform="translate(620.98,788.67) scale(1,1.08)" text-anchor="start" font-size="10.5">80</text>
<text transform="translate(620.98,758.37) scale(1,1.08)" text-anchor="start" font-size="10.5">100</text>
<text transform="translate(620.98,728.07) scale(1,1.08)" text-anchor="start" font-size="10.5">120</text>
<text transform="translate(380.8,920.8) scale(1,1.08)" text-anchor="middle" font-size="10.6">0</text>
<text transform="translate(423.56,920.8) scale(1,1.08)" text-anchor="middle" font-size="10.6">20</text>
<text transform="translate(466.33,920.8) scale(1,1.08)" text-anchor="middle" font-size="10.6">40</text>
<text transform="translate(509.09,920.8) scale(1,1.08)" text-anchor="middle" font-size="10.6">60</text>
<text transform="translate(551.85,920.8) scale(1,1.08)" text-anchor="middle" font-size="10.6">80</text>
<text transform="translate(594.62,920.8) scale(1,1.08)" text-anchor="middle" font-size="10.6">100</text>
<path d="M380.8,724.6H616 M377.3,906.4H619.5 M380.8,724.6V906.4 M616,724.6V906.4 M377.3,906.4H380.8 M377.3,870.04H380.8 M377.3,833.68H380.8 M377.3,797.32H380.8 M377.3,760.96H380.8 M377.3,724.6H380.8 M378.8,888.22H380.8 M378.8,851.86H380.8 M378.8,815.5H380.8 M378.8,779.14H380.8 M378.8,742.78H380.8 M616,906.4H619.5 M616,876.1H619.5 M616,845.8H619.5 M616,815.5H619.5 M616,785.2H619.5 M616,754.9H619.5 M616,724.6H619.5 M616,891.25H618 M616,860.95H618 M616,830.65H618 M616,800.35H618 M616,770.05H618 M616,739.75H618 M380.8,906.4V909.9 M423.56,906.4V909.9 M466.33,906.4V909.9 M509.09,906.4V909.9 M551.85,906.4V909.9 M594.62,906.4V909.9 M402.18,906.4V908.4 M444.95,906.4V908.4 M487.71,906.4V908.4 M530.47,906.4V908.4 M573.24,906.4V908.4 M616,906.4V908.4" stroke="#000" stroke-width="1" fill="none"/>
<path d="M412.87,897.59 C420,889.37 427.13,879.83 434.25,872.93 C441.38,866.03 448.51,863.83 455.64,856.19 C462.76,848.56 469.89,837.55 477.02,827.13 C484.15,816.7 491.27,802.17 498.4,793.66 C505.53,785.14 512.65,781.03 519.78,776.04 C526.91,771.05 534.04,766.79 541.16,763.71 C548.29,760.63 555.42,759.01 562.55,757.54 C569.67,756.07 576.8,755.78 583.93,754.9" stroke="#ff0000" stroke-width="0.9" fill="none"/>
<circle cx="412.87" cy="897.59" r="2.5" fill="#000"/>
<circle cx="434.25" cy="872.93" r="2.5" fill="#000"/>
<circle cx="455.64" cy="856.19" r="2.5" fill="#000"/>
<circle cx="477.02" cy="827.13" r="2.5" fill="#000"/>
<circle cx="498.4" cy="793.66" r="2.5" fill="#000"/>
<circle cx="519.78" cy="776.04" r="2.5" fill="#000"/>
<circle cx="541.16" cy="763.71" r="2.5" fill="#000"/>
<circle cx="562.55" cy="757.54" r="2.5" fill="#000"/>
<circle cx="583.93" cy="754.9" r="2.5" fill="#000"/>
<text transform="translate(498.4,939.5) scale(1,1.08)" text-anchor="middle" font-size="10.95">CS (MPa)</text>
<text transform="translate(354,815.3) rotate(-90) scale(1,1.08)" text-anchor="middle" font-size="10.85">Frequency</text>
<text transform="translate(651,815.5) rotate(-90) scale(1,1.08)" text-anchor="middle" font-size="11.05">Cumulative Percent</text>
</g>
</svg>
</body></html>
